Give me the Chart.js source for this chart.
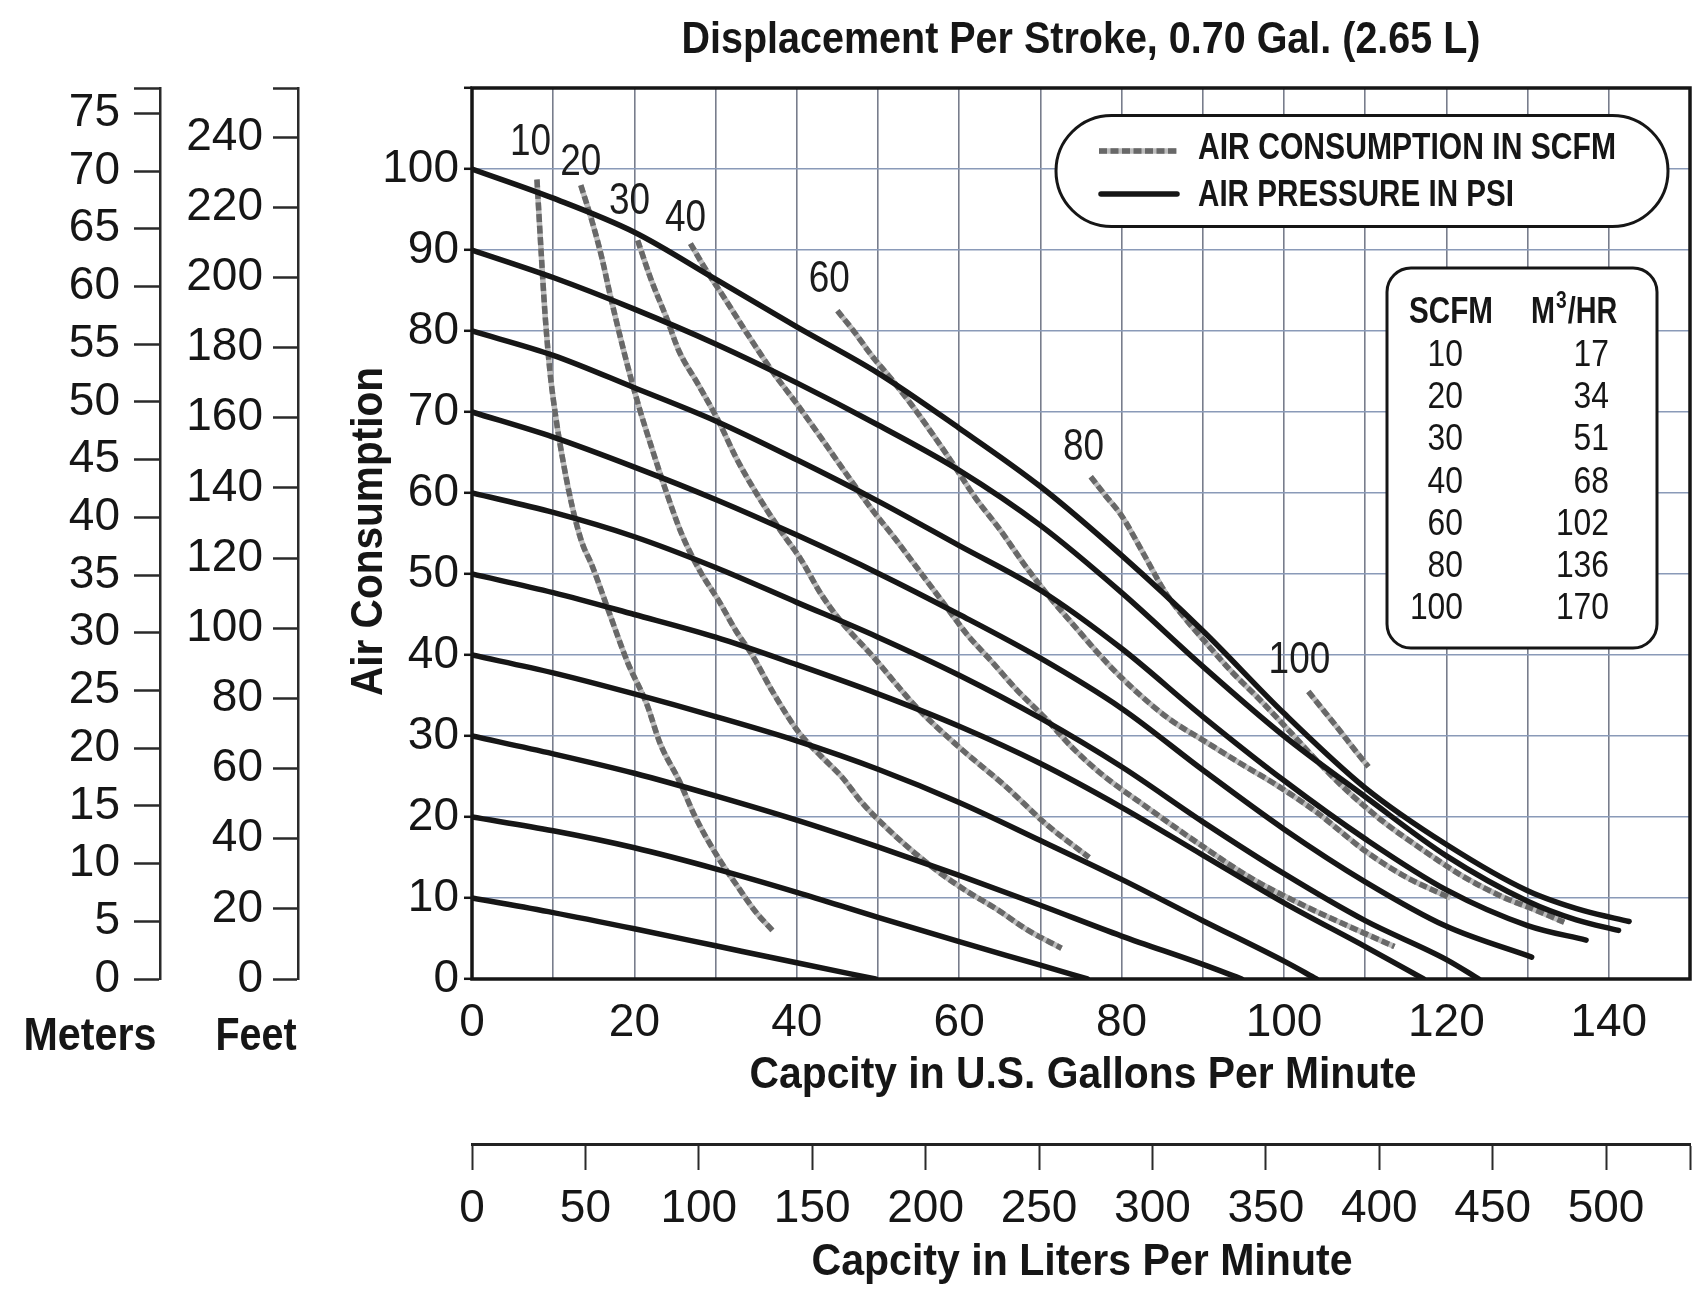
<!DOCTYPE html>
<html>
<head>
<meta charset="utf-8">
<title>Displacement Per Stroke, 0.70 Gal. (2.65 L)</title>
<script src="https://cdn.jsdelivr.net/npm/chart.js@4.4.1/dist/chart.umd.min.js"></script>
<style>
  html, body { margin: 0; padding: 0; background: #fff; overflow: hidden; }
  canvas { display: block; }
</style>
</head>
<body>
<canvas id="pumpChart" width="1693" height="1296"></canvas>
<script>
// Air pressure curves (PSI): [capacity gpm, pressure psi]
const psi100 = [[0,100],[10,96.4],[20,92.2],[30,86.4],[40,80.5],[50,74.8],[60,68],[70,60.8],[80,52.3],[90,43],[100,32.8],[110,23.6],[120,16.6],[130,10.9],[137,8.4],[142.5,7.1]];
const psi90 = [[0,90],[10,86.6],[20,82.7],[30,78.4],[40,73.6],[50,68.4],[60,62.8],[70,56],[80,47.7],[90,38.6],[100,30],[110,22.5],[120,15.2],[130,9.6],[136,7.3],[141.2,6]];
const psi80 = [[0,80],[10,77],[20,73],[30,68.9],[40,64.1],[50,59],[60,53.5],[70,48],[80,40.8],[90,32.4],[100,24.5],[110,17.3],[120,11],[130,6.6],[137.2,4.8]];
const psi70 = [[0,70],[10,66.9],[20,63.2],[30,59.2],[40,54.8],[50,50.1],[60,45],[70,39.6],[80,33.4],[90,25.8],[100,18.5],[110,12],[120,6.5],[130.5,2.7]];
const psi60 = [[0,60],[10,57.6],[20,54.6],[30,50.8],[40,46.5],[50,42.2],[60,37.5],[70,32.2],[80,26.2],[90,19.4],[100,13],[110,7.2],[120,2.4],[124,0]];
const psi50 = [[0,50],[10,47.7],[20,45],[30,42.2],[40,38.8],[50,35.2],[60,31.2],[70,26.6],[80,21.2],[90,15.3],[100,9.4],[110,4],[117.2,0]];
const psi40 = [[0,40],[10,37.8],[20,35.2],[30,32.4],[40,29.4],[50,25.9],[60,21.8],[70,17.1],[80,12.3],[90,7.2],[100,2.2],[104,0]];
const psi30 = [[0,30],[10,27.8],[20,25.4],[30,22.6],[40,19.6],[50,16.3],[60,12.8],[70,9.1],[80,5.3],[90,1.8],[94.8,0]];
const psi20 = [[0,20],[10,18.3],[20,16.2],[30,13.6],[40,10.7],[50,7.6],[60,4.6],[70,1.7],[75.8,0]];
const psi10 = [[0,10],[10,8.2],[20,6.2],[30,4.1],[40,2],[49.7,0]];

// Air consumption curves (SCFM): [capacity gpm, pressure psi]
const scfm10 = [[8,98.7],[8.5,90],[9,82],[9.6,75],[10.3,69.5],[11.2,64],[12.3,58.5],[13.5,54],[14.8,51],[16.8,45.5],[19.2,39],[21.5,34],[23.2,29],[25.5,24.5],[27.5,20],[30,15.5],[33,11],[35,8.2],[37,6]];
const scfm20 = [[13.4,98],[14.8,93.5],[16,89],[17,84.5],[18.2,79.5],[19.4,74.8],[20.6,70.5],[22,66],[23.8,60.5],[25.8,55],[28,50.5],[30.5,46.5],[32.5,43],[34.5,40],[37,35.5],[40.2,30.5],[43,27.5],[45.5,25],[48,21.8],[50.5,19.2],[54,16],[57.5,13.2],[61,10.8],[64.5,8.7],[68.5,6],[72.6,3.8]];
const scfm30 = [[20.4,91.2],[22,86.5],[24,81.5],[25.5,77.5],[27.8,73.5],[30.4,68.8],[32.5,64.4],[35,60],[37.9,55.5],[40.5,51.8],[43,47.5],[45.4,44.2],[49.3,39.9],[54.6,33.7],[59.9,28.7],[65.7,23.8],[70.6,19.2],[76,15]];
const scfm40 = [[26.9,90.8],[28.6,87.9],[31,84.2],[34,79.5],[37,75],[40,71],[43,66.8],[46,62.5],[49,58.3],[52,54.5],[55,50.5],[58,46.5],[61,42.5],[64,39.2],[67,35.8],[70.6,32.2],[74,28.5],[77.4,25.4],[83.4,21],[89.8,16.5],[96.2,12.3],[102.6,9],[108,6.5],[113.6,4]];
const scfm60 = [[45,82.5],[47,80],[49.2,77],[51.7,74],[54.2,70.8],[56.7,67.3],[59.1,63.8],[62,59.4],[65,55.5],[68,51.2],[71,47.3],[74,43.8],[78.4,38.8],[82,35.3],[86,32],[90,29.5],[94.5,26.7],[99,24],[104,20.6],[110,15.8],[115,12.6],[120.5,10]];
const scfm80 = [[76.2,62],[78,59.7],[80,57.2],[82.7,52.5],[85.4,47.7],[88,44.3],[90.4,41.5],[93.5,38],[97,34.5],[100.5,30.8],[104,27],[107.7,23.3],[112,19.6],[117,16],[122,12.7],[127,10.1],[131,8.5],[134.5,7]];
const scfm100 = [[103,35.5],[105,33],[107,30.5],[108.7,28.3],[110.4,26.2]];

const pressureCurves = [psi100, psi90, psi80, psi70, psi60, psi50, psi40, psi30, psi20, psi10];
const pressureLabels = [100, 90, 80, 70, 60, 50, 40, 30, 20, 10];
const scfmCurves = [scfm10, scfm20, scfm30, scfm40, scfm60, scfm80, scfm100];
const scfmLabels = ['10', '20', '30', '40', '60', '80', '100'];
// where each SCFM number sits, in gpm / psi
const scfmLabelAt = [[7.2,103.2],[13.4,100.7],[19.4,95.9],[26.3,93.9],[44,86.3],[75.3,65.6],[101.9,39.3]];

// conversion table and axis ticks
const tableScfm = [10, 20, 30, 40, 60, 80, 100];
const tableM3hr = [17, 34, 51, 68, 102, 136, 170];
const gpmTicks = [0, 10, 20, 30, 40, 50, 60, 70, 80, 90, 100, 110, 120, 130, 140, 150];
const psiTicks = [0, 10, 20, 30, 40, 50, 60, 70, 80, 90, 100, 110];
const meterTicks = [0, 5, 10, 15, 20, 25, 30, 35, 40, 45, 50, 55, 60, 65, 70, 75];
const feetTicks = [0, 20, 40, 60, 80, 100, 120, 140, 160, 180, 200, 220, 240];
const literTicks = [0, 50, 100, 150, 200, 250, 300, 350, 400, 450, 500];

const FAMILY = "'Liberation Sans', Arial, Helvetica, sans-serif";
const INK = '#161616';
const tickFont = { family: FAMILY, size: 46 };

const toPoints = arr => arr.map(([g, p]) => ({ x: g, y: p }));

const datasets = [];
pressureCurves.forEach((c, i) => {
    datasets.push({
        label: pressureLabels[i] + ' PSI',
        data: toPoints(c),
        borderColor: INK,
        borderWidth: 5.5,
        borderCapStyle: 'round',
        pointRadius: 0,
        cubicInterpolationMode: 'monotone',
        order: 0,
        kind: 'psi'
    });
});
scfmCurves.forEach((c, i) => {
    datasets.push({
        label: scfmLabels[i] + ' SCFM',
        data: toPoints(c),
        borderColor: '#686868',
        borderWidth: 5.5,
        borderDash: [8, 3.5],
        pointRadius: 0,
        cubicInterpolationMode: 'monotone',
        order: 1,
        kind: 'scfm'
    });
});

function roundRect(ctx, x, y, w, h, r) {
    ctx.beginPath();
    ctx.moveTo(x + r, y);
    ctx.arcTo(x + w, y, x + w, y + h, r);
    ctx.arcTo(x + w, y + h, x, y + h, r);
    ctx.arcTo(x, y + h, x, y, r);
    ctx.arcTo(x, y, x + w, y, r);
    ctx.closePath();
}

// text squeezed to a given width (the sheet uses a condensed face)
function fitText(ctx, text, cx, cy, font, width, rot) {
    ctx.save();
    ctx.font = font;
    const w = ctx.measureText(text).width;
    ctx.translate(cx, cy);
    if (rot) ctx.rotate(rot);
    ctx.scale(width / w, 1);
    ctx.textAlign = 'center';
    ctx.textBaseline = 'middle';
    ctx.fillText(text, 0, 0);
    ctx.restore();
}

function squeezeText(ctx, text, x, y, font, sx, align) {
    ctx.save();
    ctx.font = font;
    ctx.translate(x, y);
    ctx.scale(sx, 1);
    ctx.textAlign = align;
    ctx.textBaseline = 'middle';
    ctx.fillText(text, 0, 0);
    ctx.restore();
}

// light underlay so the SCFM dashes read like the printed ones
const dashUnderlay = {
    id: 'dashUnderlay',
    beforeDatasetDraw(chart, args) {
        const ds = chart.data.datasets[args.index];
        if (ds.kind !== 'scfm') return;
        const el = args.meta.dataset;
        const orig = el.options;
        el.options = Object.assign({}, orig, { borderColor: '#bdbdbd', borderDash: [], borderWidth: orig.borderWidth });
        el.draw(chart.ctx, chart.chartArea);
        el.options = orig;
    }
};

// frame, titles, curve numbers, legend pill and the SCFM / m3/hr table
const overlayPlugin = {
    id: 'overlay',
    afterDatasetsDraw(chart) {
        const { ctx, chartArea: a, scales } = chart;
        const x = scales.x, y = scales.y;
        ctx.save();

        ctx.strokeStyle = INK;
        ctx.lineWidth = 3.5;
        ctx.strokeRect(a.left, a.top, a.right - a.left, a.bottom - a.top);

        ctx.fillStyle = INK;
        const cx = (a.left + a.right) / 2;
        fitText(ctx, 'Displacement Per Stroke, 0.70 Gal. (2.65 L)', cx, 41, 'bold 44px ' + FAMILY, 799);
        fitText(ctx, 'Capcity in U.S. Gallons Per Minute', cx + 2, a.bottom + 97, 'bold 44px ' + FAMILY, 667);
        fitText(ctx, 'Capcity in Liters Per Minute', cx + 1, a.bottom + 284, 'bold 44px ' + FAMILY, 541);
        fitText(ctx, 'Air Consumption', a.left - 102, (a.top + a.bottom) / 2 - 2, 'bold 44px ' + FAMILY, 329, -Math.PI / 2);
        fitText(ctx, 'Meters', scales.meters.left + 90, a.bottom + 58, 'bold 46px ' + FAMILY, 133);
        fitText(ctx, 'Feet', scales.feet.left + 96, a.bottom + 58, 'bold 46px ' + FAMILY, 81);

        // SCFM numbers above each dashed curve
        ctx.fillStyle = '#1c1c1c';
        scfmLabelAt.forEach(([g, p], i) => {
            squeezeText(ctx, scfmLabels[i], x.getPixelForValue(g), y.getPixelForValue(p), '44px ' + FAMILY, 0.84, 'center');
        });

        // legend pill
        const lx = a.right - 634, ly = a.top + 27.5, lw = 612, lh = 111;
        roundRect(ctx, lx, ly, lw, lh, 55.5);
        ctx.fillStyle = '#fff';
        ctx.fill();
        ctx.lineWidth = 3;
        ctx.strokeStyle = INK;
        ctx.stroke();

        const dashed = chart.data.datasets.find(d => d.kind === 'scfm');
        const solid = chart.data.datasets.find(d => d.kind === 'psi');
        ctx.lineCap = 'butt';
        ctx.beginPath();
        ctx.strokeStyle = '#bdbdbd';
        ctx.lineWidth = dashed.borderWidth;
        ctx.moveTo(lx + 43, ly + 35.5);
        ctx.lineTo(lx + 121, ly + 35.5);
        ctx.stroke();
        ctx.beginPath();
        ctx.setLineDash(dashed.borderDash);
        ctx.strokeStyle = dashed.borderColor;
        ctx.moveTo(lx + 43, ly + 35.5);
        ctx.lineTo(lx + 121, ly + 35.5);
        ctx.stroke();
        ctx.setLineDash([]);
        ctx.beginPath();
        ctx.strokeStyle = solid.borderColor;
        ctx.lineWidth = solid.borderWidth;
        ctx.lineCap = 'round';
        ctx.moveTo(lx + 45, ly + 78.5);
        ctx.lineTo(lx + 121, ly + 78.5);
        ctx.stroke();

        ctx.fillStyle = INK;
        fitText(ctx, 'AIR CONSUMPTION IN SCFM', lx + 142 + 209, ly + 34, 'bold 36px ' + FAMILY, 418);
        fitText(ctx, 'AIR PRESSURE IN PSI', lx + 142 + 158, ly + 81, 'bold 36px ' + FAMILY, 316);

        // conversion table
        const tx = a.right - 303, ty = a.top + 180, tw = 270, th = 380;
        roundRect(ctx, tx, ty, tw, th, 24);
        ctx.fillStyle = '#fff';
        ctx.fill();
        ctx.lineWidth = 3;
        ctx.strokeStyle = INK;
        ctx.stroke();

        ctx.fillStyle = INK;
        fitText(ctx, 'SCFM', tx + 64, ty + 45, 'bold 36px ' + FAMILY, 84);
        squeezeText(ctx, 'M', tx + 144, ty + 45, 'bold 36px ' + FAMILY, 0.8, 'left');
        ctx.font = 'bold 36px ' + FAMILY;
        const mW = ctx.measureText('M').width * 0.8;
        squeezeText(ctx, '3', tx + 144 + mW + 1, ty + 33, 'bold 24px ' + FAMILY, 0.8, 'left');
        ctx.font = 'bold 24px ' + FAMILY;
        const tW = ctx.measureText('3').width * 0.8;
        squeezeText(ctx, '/HR', tx + 144 + mW + tW + 2, ty + 45, 'bold 36px ' + FAMILY, 0.8, 'left');

        tableScfm.forEach((v, i) => {
            const ry = ty + 88 + i * 42.1;
            squeezeText(ctx, String(v), tx + 76, ry, '37px ' + FAMILY, 0.86, 'right');
            squeezeText(ctx, String(tableM3hr[i]), tx + 222, ry, '37px ' + FAMILY, 0.86, 'right');
        });

        ctx.restore();
    }
};

const noSidePad = s => { s.paddingLeft = 0; s.paddingRight = 0; };

const ctx = document.getElementById('pumpChart').getContext('2d');
new Chart(ctx, {
    type: 'line',
    data: { datasets: datasets },
    options: {
        responsive: false,
        animation: false,
        devicePixelRatio: 1,
        layout: { padding: { left: 0, right: 3, top: 88, bottom: 0 } },
        plugins: {
            legend: { display: false },
            tooltip: { enabled: false }
        },
        scales: {
            x: {
                type: 'linear',
                position: 'bottom',
                weight: 1,
                min: 0,
                max: 150,
                afterBuildTicks: s => { s.ticks = gpmTicks.map(v => ({ value: v })); },
                afterFit: s => { s.height = 165; noSidePad(s); },
                ticks: {
                    autoSkip: false,
                    maxRotation: 0,
                    padding: 17,
                    color: INK,
                    font: tickFont,
                    callback: v => (v % 20 === 0 && v < 150 ? v : '')
                },
                grid: { color: '#787d8c', lineWidth: 1.6, drawTicks: false },
                border: { display: false }
            },
            liters: {
                type: 'linear',
                position: 'bottom',
                weight: 2,
                min: 0,
                max: 537,
                afterBuildTicks: s => { s.ticks = literTicks.concat([s.max]).map(v => ({ value: v })); },
                afterFit: s => { s.height = 152; noSidePad(s); },
                ticks: {
                    autoSkip: false,
                    maxRotation: 0,
                    padding: 12,
                    color: INK,
                    font: tickFont,
                    callback: v => (v % 50 === 0 ? v : '')
                },
                grid: { drawOnChartArea: false, tickLength: 26, tickColor: '#2a2a2a', tickWidth: 2 },
                border: { display: true, color: '#222', width: 3 }
            },
            y: {
                type: 'linear',
                position: 'left',
                weight: 1,
                min: 0,
                max: 110,
                afterBuildTicks: s => { s.ticks = psiTicks.map(v => ({ value: v })); },
                afterFit: s => { s.width = 174; },
                ticks: {
                    autoSkip: false,
                    padding: 5,
                    color: INK,
                    font: tickFont,
                    callback: v => (v <= 100 ? v : '')
                },
                grid: { color: '#8a9ab8', lineWidth: 1.6, tickLength: 8, tickColor: INK, tickWidth: 2.5 },
                border: { display: false }
            },
            feet: {
                type: 'linear',
                position: 'left',
                weight: 2,
                min: 0,
                max: 254,
                afterBuildTicks: s => { s.ticks = feetTicks.concat([s.max]).map(v => ({ value: v })); },
                afterFit: s => { s.width = 138; },
                ticks: {
                    autoSkip: false,
                    padding: 10,
                    color: INK,
                    font: tickFont,
                    callback: v => (v % 20 === 0 ? v : '')
                },
                grid: { drawOnChartArea: false, tickLength: 25, tickColor: '#2a2a2a', tickWidth: 2.5 },
                border: { display: true, color: '#2a2a2a', width: 2.5 }
            },
            meters: {
                type: 'linear',
                position: 'left',
                weight: 3,
                min: 0,
                max: 77.2,
                afterBuildTicks: s => { s.ticks = meterTicks.concat([s.max]).map(v => ({ value: v })); },
                afterFit: s => { s.width = 160; },
                ticks: {
                    autoSkip: false,
                    padding: 14,
                    color: INK,
                    font: tickFont,
                    callback: v => (v % 5 === 0 ? v : '')
                },
                grid: { drawOnChartArea: false, tickLength: 26, tickColor: '#2a2a2a', tickWidth: 2.5 },
                border: { display: true, color: '#2a2a2a', width: 2.5 }
            }
        }
    },
    plugins: [dashUnderlay, overlayPlugin]
});
</script>
</body>
</html>
